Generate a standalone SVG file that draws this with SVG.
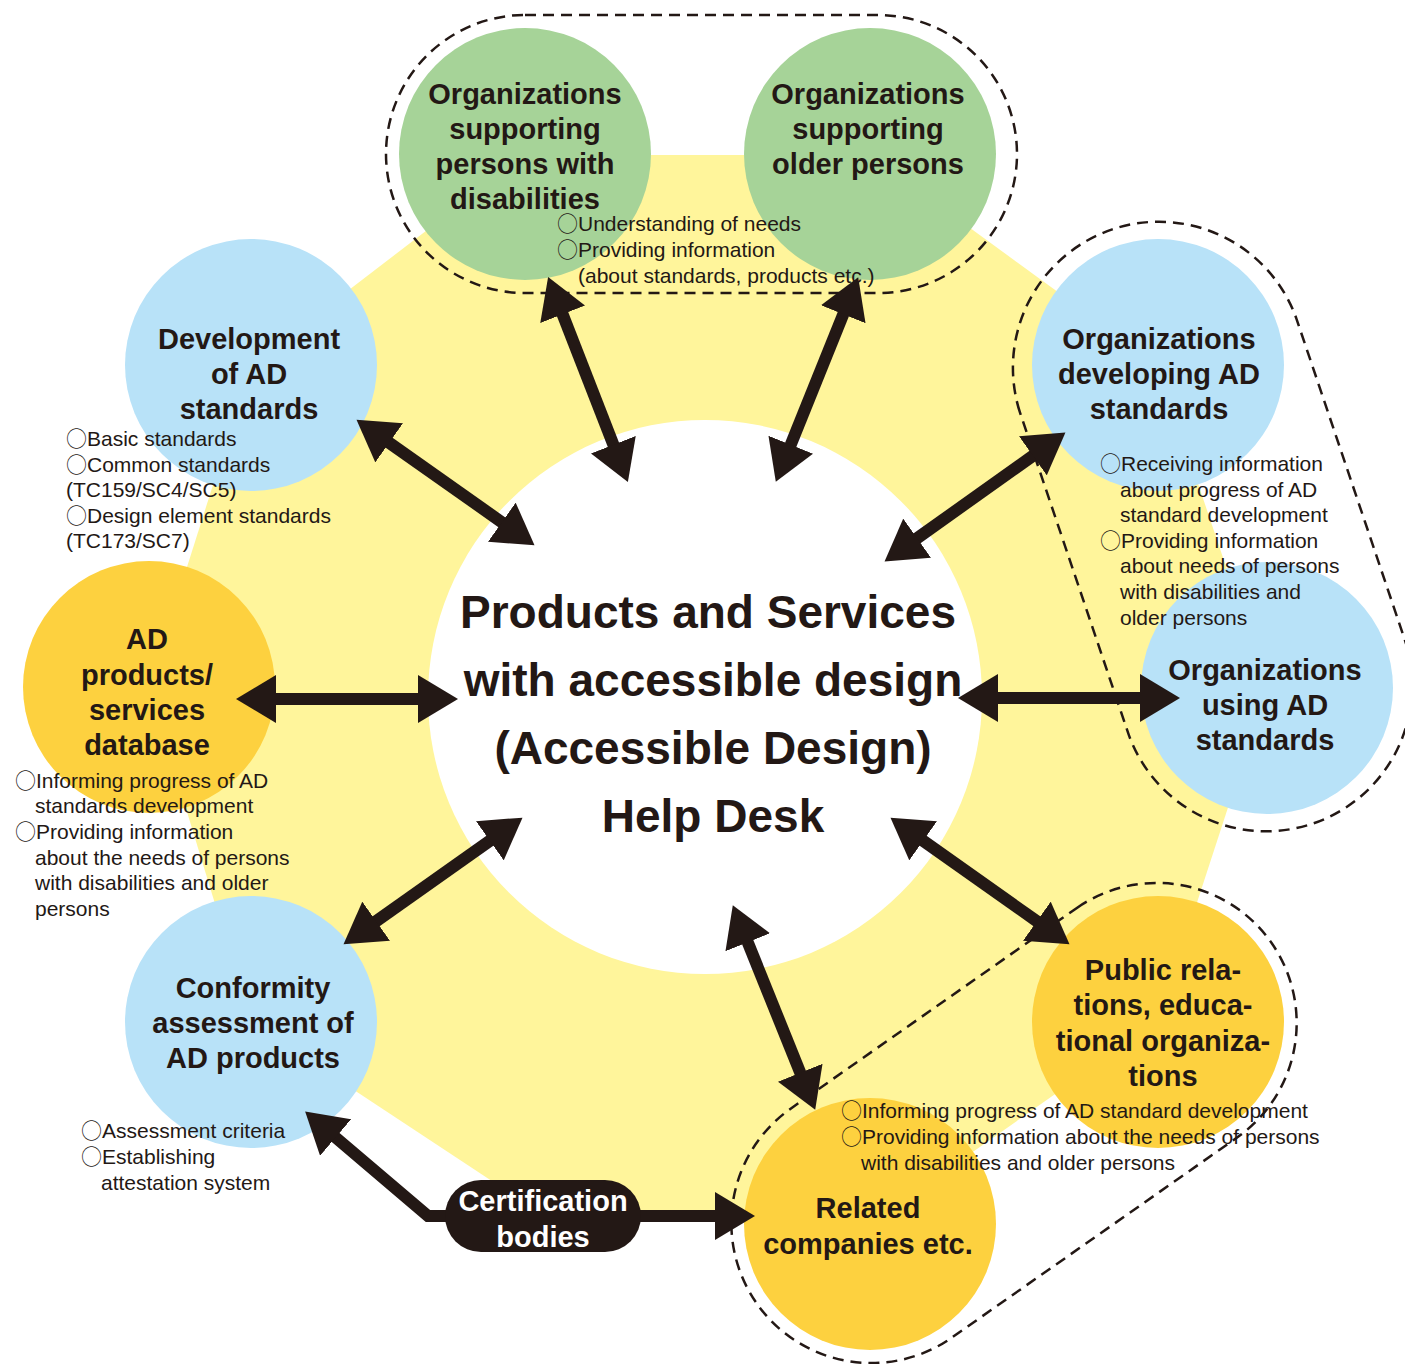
<svg xmlns="http://www.w3.org/2000/svg" width="1405" height="1364" viewBox="0 0 1405 1364">
<defs>
<style>
.bg{fill:#FFF59B}
.hub{fill:#FFFFFF}
.blue{fill:#B8E2F8}
.green{fill:#A6D398}
.orange{fill:#FDD13F}
.dash{fill:none;stroke:#231815;stroke-width:2.5;stroke-dasharray:11 7}
.arr{fill:none;stroke:#231815;stroke-width:12;stroke-linejoin:miter;marker-start:url(#ah);marker-end:url(#ah)}
.lbl{font-family:"Liberation Sans","Noto Sans CJK JP",sans-serif;font-weight:bold;font-size:29px;fill:#231815;text-anchor:middle}
.title{font-family:"Liberation Sans","Noto Sans CJK JP",sans-serif;font-weight:bold;font-size:46px;fill:#231815;text-anchor:middle}
.note{font-family:"Liberation Sans","Noto Sans CJK JP",sans-serif;font-size:21px;fill:#231815}
.ci{font-family:"Noto Sans CJK JP","Noto Sans CJK SC",sans-serif;font-weight:300}
.cert{font-family:"Liberation Sans","Noto Sans CJK JP",sans-serif;font-weight:bold;font-size:29px;fill:#FFFFFF;text-anchor:middle}
</style>
<marker id="ah" markerUnits="userSpaceOnUse" markerWidth="42" markerHeight="48" refX="10" refY="24" orient="auto-start-reverse">
<path d="M0,0 L40,24 L0,48 Z" fill="#231815"/>
</marker>
</defs>

<g id="background">
<polygon class="bg" points="525,155 870,155 1158,365 1267,688 1158,1022 870,1224 545,1216 251,1022 149,687 251,365"/>
<circle class="hub" cx="705" cy="697" r="277"/>
</g>

<g id="groups">
<path class="dash" d="M525,15 L878,15 A139,139 0 0 1 878,293 L525,293 A139,139 0 0 1 525,15 Z"/>
<path class="dash" d="M1019.7,411.7 A146,146 0 0 1 1296.3,318.3 L1405.3,641.3 A146,146 0 0 1 1128.7,734.7 Z"/>
<path class="dash" d="M1077.6,907.4 A140,140 0 0 1 1238.4,1136.6 L950.4,1338.6 A140,140 0 0 1 789.6,1109.4 Z"/>
</g>

<g id="node-disabilities">
<circle class="green" cx="525" cy="154" r="126"/>
<text class="lbl"><tspan x="525" y="104">Organizations</tspan><tspan x="525" y="139">supporting</tspan><tspan x="525" y="174">persons with</tspan><tspan x="525" y="209">disabilities</tspan></text>
</g>
<g id="node-older">
<circle class="green" cx="870" cy="154" r="126"/>
<text class="lbl"><tspan x="868" y="104">Organizations</tspan><tspan x="868" y="139">supporting</tspan><tspan x="868" y="174">older persons</tspan></text>
</g>
<g id="node-development">
<circle class="blue" cx="251" cy="365" r="126"/>
<text class="lbl"><tspan x="249" y="349">Development</tspan><tspan x="249" y="384">of AD</tspan><tspan x="249" y="419">standards</tspan></text>
</g>
<g id="node-developing">
<circle class="blue" cx="1158" cy="365" r="126"/>
<text class="lbl"><tspan x="1159" y="349">Organizations</tspan><tspan x="1159" y="384">developing AD</tspan><tspan x="1159" y="419">standards</tspan></text>
</g>
<g id="node-database">
<circle class="orange" cx="149" cy="687" r="126"/>
<text class="lbl"><tspan x="147" y="649">AD</tspan><tspan x="147" y="685">products/</tspan><tspan x="147" y="720">services</tspan><tspan x="147" y="755">database</tspan></text>
</g>
<g id="node-using">
<circle class="blue" cx="1267" cy="688" r="126"/>
<text class="lbl"><tspan x="1265" y="680">Organizations</tspan><tspan x="1265" y="715">using AD</tspan><tspan x="1265" y="750">standards</tspan></text>
</g>
<g id="node-conformity">
<circle class="blue" cx="251" cy="1022" r="126"/>
<text class="lbl"><tspan x="253" y="998">Conformity</tspan><tspan x="253" y="1033">assessment of</tspan><tspan x="253" y="1068">AD products</tspan></text>
</g>
<g id="node-pr">
<circle class="orange" cx="1158" cy="1022" r="126"/>
<text class="lbl"><tspan x="1163" y="980">Public rela-</tspan><tspan x="1163" y="1015">tions, educa-</tspan><tspan x="1163" y="1051">tional organiza-</tspan><tspan x="1163" y="1086">tions</tspan></text>
</g>
<g id="node-related">
<circle class="orange" cx="870" cy="1224" r="126"/>
<text class="lbl"><tspan x="868" y="1218">Related</tspan><tspan x="868" y="1254">companies etc.</tspan></text>
</g>

<g id="connectors">
<path class="arr" d="M559,305 L617,454"/>
<path class="arr" d="M847,305 L787,454"/>
<path class="arr" d="M381,437 L510,528"/>
<path class="arr" d="M1041,450 L909,544"/>
<path class="arr" d="M266,699 L428,699"/>
<path class="arr" d="M988,698 L1150,698"/>
<path class="arr" d="M368,927 L498,835"/>
<path class="arr" d="M915,835 L1045,927"/>
<path class="arr" d="M744,933 L804,1082"/>
<path class="arr" d="M328,1131 L428,1216 L725,1216"/>
</g>

<g id="node-hub">
<text class="title"><tspan x="708" y="628">Products and Services</tspan><tspan x="713" y="696">with accessible design</tspan><tspan x="713" y="764">(Accessible Design)</tspan><tspan x="713" y="832">Help Desk</tspan></text>
</g>

<g id="node-certification">
<rect x="445" y="1180" width="196" height="72" rx="36" ry="36" fill="#231815"/>
<text class="cert"><tspan x="543" y="1211">Certification</tspan><tspan x="543" y="1247">bodies</tspan></text>
</g>

<g id="notes">
<text class="note"><tspan x="557" y="231"><tspan class="ci">○</tspan>Understanding of needs</tspan><tspan x="557" y="257"><tspan class="ci">○</tspan>Providing information</tspan><tspan x="578" y="283">(about standards, products etc.)</tspan></text>
<text class="note"><tspan x="66" y="446"><tspan class="ci">○</tspan>Basic standards</tspan><tspan x="66" y="472"><tspan class="ci">○</tspan>Common standards</tspan><tspan x="66" y="497">(TC159/SC4/SC5)</tspan><tspan x="66" y="523"><tspan class="ci">○</tspan>Design element standards</tspan><tspan x="66" y="548">(TC173/SC7)</tspan></text>
<text class="note"><tspan x="1100" y="471"><tspan class="ci">○</tspan>Receiving information</tspan><tspan x="1120" y="497">about progress of AD</tspan><tspan x="1120" y="522">standard development</tspan><tspan x="1100" y="548"><tspan class="ci">○</tspan>Providing information</tspan><tspan x="1120" y="573">about needs of persons</tspan><tspan x="1120" y="599">with disabilities and</tspan><tspan x="1120" y="625">older persons</tspan></text>
<text class="note"><tspan x="15" y="788"><tspan class="ci">○</tspan>Informing progress of AD</tspan><tspan x="35" y="813">standards development</tspan><tspan x="15" y="839"><tspan class="ci">○</tspan>Providing information</tspan><tspan x="35" y="865">about the needs of persons</tspan><tspan x="35" y="890">with disabilities and older</tspan><tspan x="35" y="916">persons</tspan></text>
<text class="note"><tspan x="81" y="1138"><tspan class="ci">○</tspan>Assessment criteria</tspan><tspan x="81" y="1164"><tspan class="ci">○</tspan>Establishing</tspan><tspan x="101" y="1190">attestation system</tspan></text>
<text class="note"><tspan x="841" y="1118"><tspan class="ci">○</tspan>Informing progress of AD standard development</tspan><tspan x="841" y="1144"><tspan class="ci">○</tspan>Providing information about the needs of persons</tspan><tspan x="861" y="1170">with disabilities and older persons</tspan></text>
</g>
</svg>
